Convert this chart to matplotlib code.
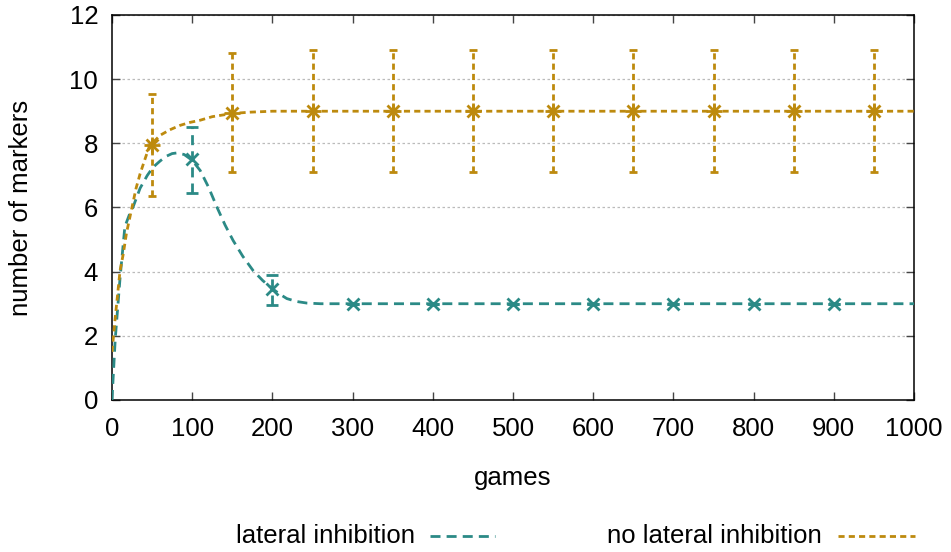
import numpy as np
import matplotlib.pyplot as plt

plt.rcParams['font.family'] = ['Liberation Sans', 'DejaVu Sans']

teal = '#2b8a86'
gold = '#bd8a0e'

# measured points with error bars
li_x = [100, 200, 300, 400, 500, 600, 700, 800, 900]
li_y = [7.5, 3.45, 3.0, 3.0, 3.0, 3.0, 3.0, 3.0, 3.0]
li_lo = [6.45, 2.95, 3.0, 3.0, 3.0, 3.0, 3.0, 3.0, 3.0]
li_hi = [8.5, 3.9, 3.0, 3.0, 3.0, 3.0, 3.0, 3.0, 3.0]

nli_x = [50, 150, 250, 350, 450, 550, 650, 750, 850, 950]
nli_y = [7.95, 8.95, 9.0, 9.0, 9.0, 9.0, 9.0, 9.0, 9.0, 9.0]
nli_lo = [6.35, 7.1, 7.1, 7.1, 7.1, 7.1, 7.1, 7.1, 7.1, 7.1]
nli_hi = [9.55, 10.8, 10.9, 10.9, 10.9, 10.9, 10.9, 10.9, 10.9, 10.9]

# fitted curves
li_fit_x = [0, 1, 4, 10, 16, 22, 26, 35, 44, 51, 60, 68, 75, 81, 90, 100, 110,
            120, 131, 141, 151, 163, 176, 188, 200, 209, 218, 230, 243, 260,
            280, 300, 1000]
li_fit_y = [0.0, 0.5, 1.9, 3.8, 5.4, 5.8, 6.0, 6.6, 7.0, 7.25, 7.45, 7.6, 7.68,
            7.7, 7.65, 7.47, 7.15, 6.65, 6.0, 5.45, 4.97, 4.48, 4.03, 3.72,
            3.47, 3.3, 3.16, 3.07, 3.02, 3.0, 3.0, 3.0, 3.0]

nli_fit_x = [0, 4, 10, 14, 18, 24, 30, 35, 41, 47, 54, 60, 72, 85, 97, 110,
             125, 150, 172, 200, 250, 1000]
nli_fit_y = [1.5, 2.57, 4.03, 4.55, 5.2, 5.9, 6.6, 7.05, 7.5, 7.94, 8.1, 8.25,
             8.42, 8.56, 8.65, 8.72, 8.83, 8.93, 8.97, 9.0, 9.0, 9.0]

fig = plt.figure(figsize=(9.51, 5.52), dpi=100)
ax = fig.add_axes([0.1178, 0.2754, 0.8433, 0.6975])

lw = 2.0
li_dash = (0, (3.6, 2.2))
nli_dash = (0, (2.2, 1.5))

ax.plot(li_fit_x, li_fit_y, color=teal, lw=lw, linestyle=li_dash, zorder=3)
ax.plot(nli_fit_x, nli_fit_y, color=gold, lw=lw, linestyle=nli_dash, zorder=3)

li_err = [np.array(li_y) - np.array(li_lo), np.array(li_hi) - np.array(li_y)]
nli_err = [np.array(nli_y) - np.array(nli_lo), np.array(nli_hi) - np.array(nli_y)]

e1 = ax.errorbar(li_x, li_y, yerr=li_err, fmt='x', color=teal, ms=8, mew=2,
                 elinewidth=lw, capsize=4, capthick=lw, zorder=4)
e1[2][0].set_linestyle(li_dash)
e2 = ax.errorbar(nli_x, nli_y, yerr=nli_err, fmt='none', color=gold,
                 elinewidth=lw, capsize=3, capthick=lw, zorder=4)
e2[2][0].set_linestyle(nli_dash)
ax.plot(nli_x, nli_y, linestyle='none', marker='+', color=gold, ms=11, mew=2, zorder=5)
ax.plot(nli_x, nli_y, linestyle='none', marker='x', color=gold, ms=8, mew=2, zorder=5)

ax.set_xlim(0, 1000)
ax.set_ylim(0, 12)
ax.set_xticks(np.arange(0, 1001, 100))
ax.set_yticks(np.arange(0, 13, 2))
ax.yaxis.grid(True, color='#bbbbbb', linestyle=(0, (2, 2)), lw=0.9)
ax.tick_params(direction='in', length=6, width=1, top=True, right=True,
               labelsize=18.5, pad=10, color='#444444')
ax.tick_params(axis='x', pad=12)
for s in ax.spines.values():
    s.set_linewidth(1.1)

ax.set_xlabel('games', fontsize=18.5, labelpad=18)
ax.set_ylabel('number of markers', fontsize=18.5, labelpad=26)

# legend drawn as text + sample lines below the axes
fig.text(415 / 951, 1 - 536 / 552, 'lateral inhibition', fontsize=18.5,
         ha='right', va='center')
fig.add_artist(plt.Line2D([430 / 951, 495 / 951], [1 - 536 / 552] * 2,
                          color=teal, lw=lw, linestyle=li_dash))
fig.text(822 / 951, 1 - 536 / 552, 'no lateral inhibition', fontsize=18.5,
         ha='right', va='center')
fig.add_artist(plt.Line2D([838 / 951, 915 / 951], [1 - 536 / 552] * 2,
                          color=gold, lw=lw, linestyle=nli_dash))

fig.savefig('out.png', dpi=100)
